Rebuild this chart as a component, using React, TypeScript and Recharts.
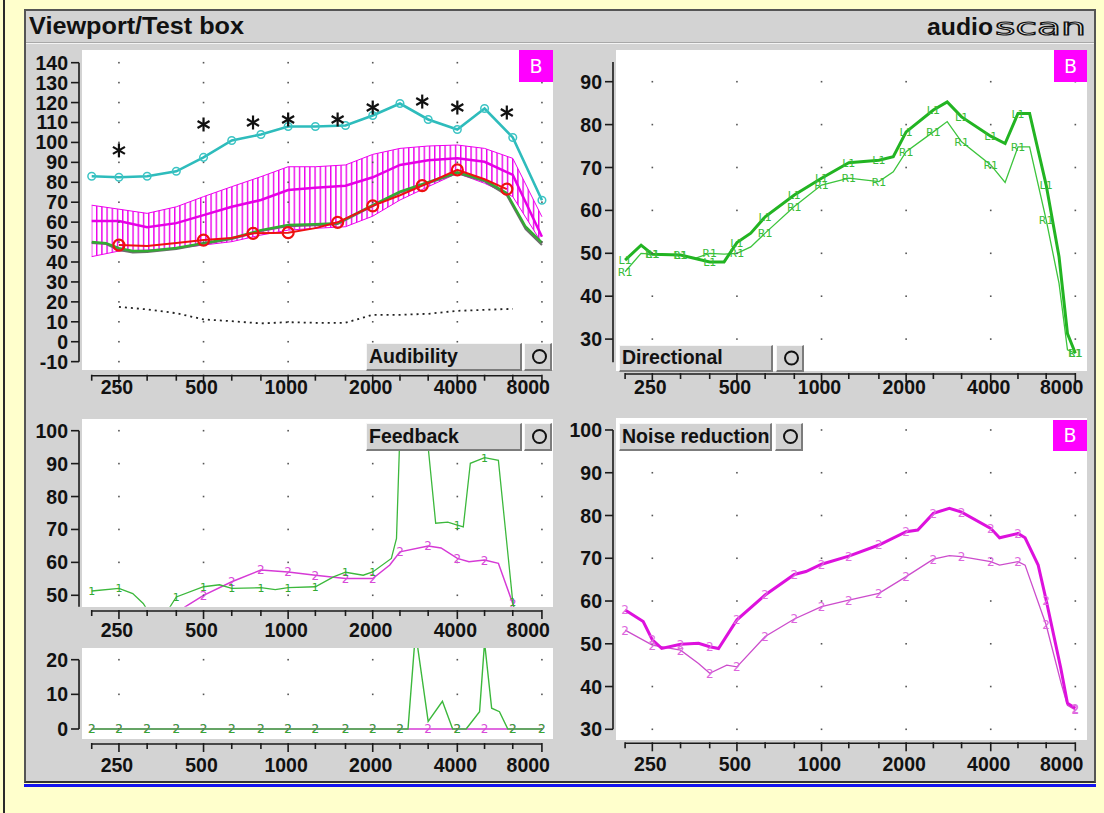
import React from 'react';
import { ComposedChart, Line, Area, Scatter, XAxis, YAxis, ReferenceLine } from 'recharts';

// third-octave and octave frequencies used on every x axis
const THIRDS = [200, 250, 315, 400, 500, 630, 800, 1000, 1250, 1600, 2000, 2500, 3150, 4000, 5000, 6300, 8000];
const OCTAVES = [250, 500, 1000, 2000, 4000, 8000];

// ---- Audibility (top left)
const audTicks = [-10, 0, 10, 20, 30, 40, 50, 60, 70, 80, 90, 100, 110, 120, 130, 140];
const ucl = [83, 82.5, 83, 85.5, 92.5, 101, 104, 108, 108, 108.5, 113.5, 119.5, 111.5, 106.5, 117, 102.5, 71];
const bandHi = [68.5, 66.5, 64.4, 67.7, 72.8, 77.8, 82.8, 87.8, 87.8, 88.7, 94, 97, 98.2, 98.7, 97, 92, 62.7];
const bandMid = [60.6, 60.6, 57.5, 59.5, 63.5, 67.7, 71.1, 76.1, 77.3, 78.3, 82.5, 88.7, 91, 92, 90.3, 83.7, 52.7];
const bandLo = [42.7, 45.5, 46, 46.9, 48.5, 50.2, 53.5, 56, 56.9, 57.7, 63, 71.1, 77.8, 84.5, 79.5, 72.8, 49.4];
const starFreq = [250, 500, 750, 1000, 1500, 2000, 3000, 4000, 6000];
const starVal = [96, 109, 110, 111.5, 111.5, 117.5, 120.5, 117.5, 115];
const redFreq = [250, 315, 400, 500, 630, 750, 1000, 1250, 1500, 2000, 2500, 3000, 4000, 5000, 6000];
const redVal = [48.5, 48, 49.5, 51, 52, 54.4, 54.7, 57, 59.9, 68.2, 73.5, 78.3, 86.2, 81.5, 76.6];
const redMarks = [250, 500, 750, 1000, 1500, 2000, 3000, 4000, 6000];
const aidedFreq = [200, 225, 250, 280, 315, 400, 500, 630, 800, 1000, 1250, 1500, 2000, 2500, 3000, 4000, 5000, 6000, 7000, 8000];
const aidedGreen = [50, 49.5, 47, 45.5, 45.5, 47, 49.5, 52, 56, 58.6, 59, 59.5, 68.6, 75.3, 79.1, 85, 81.1, 74.5, 57.7, 49.7];
const aidedGrey = [49.5, 49, 46, 44.8, 45, 46.5, 49, 51.5, 55.5, 58, 58.5, 59, 68, 74.8, 78.5, 84.5, 80.5, 73.5, 56.5, 48.5];
const threshFreq = [250, 315, 400, 500, 630, 800, 1000, 1250, 1600, 2000, 2500, 3150, 4000, 5000, 6300];
const threshVal = [17.5, 16.2, 14.3, 11.2, 10.3, 9.2, 9.8, 9.5, 9.5, 13.5, 13.5, 14, 15.5, 16, 16.5];

// ---- Directional (top right)
const dirTicks = [30, 40, 50, 60, 70, 80, 90];
const dirFreq = [200, 228, 250, 315, 355, 400, 450, 500, 560, 630, 800, 1000, 1250, 1600, 1800, 2000, 2500, 2800, 3150, 4000, 4500, 5000, 5500, 6300, 7000, 7500, 8000];
const dirL1 = [48.4, 51.9, 49.8, 49.6, 48.8, 48, 48, 52.5, 54.7, 58.5, 63.6, 67.5, 71.1, 71.7, 72.5, 78.3, 83.4, 85.3, 81.8, 77.3, 75.6, 82.6, 82.6, 65.9, 49.2, 31.3, 26.7];
const dirR1 = [45.7, 50, 49.8, 49.6, 48.8, 50, 49.8, 50, 51.5, 54.7, 60.9, 65.9, 67.5, 66.7, 69, 73.7, 78.3, 80.7, 76, 70.6, 66.5, 74.8, 74.8, 57.8, 43, 27.5, 26.7];

// ---- Feedback (bottom left, two plots)
const fbTicks = [50, 60, 70, 80, 90, 100];
const fb1Freq = [200, 250, 280, 305, 330, 360, 380, 400, 500, 570, 630, 800, 900, 1000, 1250, 1450, 1600, 1850, 2000, 2330, 2430, 2500, 2800, 3150, 3350, 3700, 4000, 4200, 4450, 5000, 5600, 6300, 6600];
const fb1Val = [51.3, 52.1, 50.5, 47.5, 43, 43, 46.5, 49.5, 52.6, 53.2, 52.1, 52.3, 51.7, 52.3, 52.6, 55.6, 57, 56.1, 57.1, 61.2, 67.3, 100, 100, 95, 71.9, 72.2, 71.3, 70.8, 90.1, 91.8, 91, 48, 40];
const fb1Marks = [200, 250, 400, 500, 630, 800, 1000, 1250, 1600, 2000, 4000, 5000, 6300];
const fb2Freq = [400, 430, 500, 630, 800, 1000, 1250, 1600, 2000, 2300, 2500, 3150, 3500, 4000, 4400, 5000, 5600, 6300, 6600];
const fb2Val = [44, 46.5, 50, 54.1, 57.7, 57.1, 56.1, 55.1, 55.1, 59.2, 63.2, 65, 64.4, 61.2, 60.2, 60.7, 59.7, 47.5, 40];
const fb2Marks = [500, 630, 800, 1000, 1250, 1600, 2000, 2500, 3150, 4000, 5000, 6300];
const fbLowTicks = [0, 10, 20];
const fbLow1Freq = [200, 250, 315, 400, 500, 630, 800, 1000, 1250, 1600, 2000, 2500, 2670, 2840, 3150, 3540, 3850, 4000, 4300, 4800, 5000, 5300, 5650, 6050, 6300, 8000];
const fbLow1Val = [0, 0, 0, 0, 0, 0, 0, 0, 0, 0, 0, 0, 0, 28, 2.2, 8, 0, 0, 0, 5, 25, 6, 5, 0, 0, 0];
const fbLow1Marks = [200, 250, 315, 400, 500, 630, 800, 1000, 1250, 1600, 2000, 2500, 4000, 6300, 8000];
const fbLow2Val = [0, 0, 0, 0, 0, 0, 0, 0, 0, 0, 0, 0, 0, 0, 0, 0, 0];

// ---- Noise reduction (bottom right)
const nrTicks = [30, 40, 50, 60, 70, 80, 90, 100];
const nrAFreq = [200, 210, 232, 250, 270, 315, 365, 400, 430, 500, 630, 800, 880, 1000, 1250, 1600, 2000, 2200, 2500, 2850, 3150, 4000, 4300, 5000, 5300, 5900, 6300, 7100, 7500, 8000];
const nrAVal = [57.9, 57, 55.2, 50.9, 48.9, 49.9, 50.1, 49.3, 48.9, 55.6, 61.4, 66.2, 66.9, 68.6, 70.5, 73.1, 76.2, 76.6, 80.5, 81.7, 80.8, 77, 74.8, 75.8, 74.8, 68.4, 60.2, 44.3, 36.1, 34.9];
const nrBFreq = [200, 250, 315, 365, 400, 460, 500, 630, 800, 1000, 1250, 1600, 2000, 2500, 2850, 3150, 4000, 4300, 5000, 5300, 6300, 7100, 7500, 8000];
const nrBVal = [53.2, 49.7, 48.5, 45.4, 43.1, 45, 44.6, 51.7, 55.8, 58.7, 60.2, 61.8, 65.7, 69.8, 70.6, 70.4, 69.2, 68.4, 69.2, 68.4, 54.4, 41.1, 35.6, 34.5];

const FONT = '"Liberation Sans", Arial, Helvetica, sans-serif';
const MARK_FONT = '"DejaVu Sans", sans-serif';
const YW = 64;
const XH = 44;
const RM = 30;
const PPO = 84.6;

type Geo = {
  x0: number; x1: number; y0: number; y1: number;
  f200: number; vRef: number; vRefPx: number; ppu: number;
  axisY: number; axisX: number; yLo: number; yHi: number; labelDy: number;
};

const TL: Geo = { x0: 82, x1: 553, y0: 50, y1: 370, f200: 91.7, vRef: 140, vRefPx: 62.7, ppu: 1.993, axisY: 375.7, axisX: 79, yLo: -10, yHi: 140, labelDy: 18 };
const TR: Geo = { x0: 616, x1: 1087, y0: 50, y1: 371, f200: 625.1, vRef: 90, vRefPx: 81.7, ppu: 4.29, axisY: 374, axisX: 613, yLo: 24.6, yHi: 94.6, labelDy: 20 };
const FU: Geo = { x0: 82, x1: 553, y0: 419, y1: 606.7, f200: 91.7, vRef: 100, vRefPx: 430.7, ppu: 3.292, axisY: 611, axisX: 79, yLo: 46.5, yHi: 100, labelDy: 26.5 };
const FL: Geo = { x0: 82, x1: 553, y0: 648.3, y1: 739, f200: 91.7, vRef: 0, vRefPx: 729.3, ppu: 3.465, axisY: 744.3, axisX: 79, yLo: 0, yHi: 20, labelDy: 28 };
const NR: Geo = { x0: 616, x1: 1087, y0: 418, y1: 740, f200: 625.1, vRef: 30, vRefPx: 729.3, ppu: 4.276, axisY: 743.3, axisX: 613, yLo: 30, yHi: 100, labelDy: 28 };

const fAt = (g: Geo, px: number) => 200 * Math.pow(2, (px - g.f200) / PPO);
const vAt = (g: Geo, py: number) => g.vRef + (g.vRefPx - py) / g.ppu;
const zip = (fs: number[], vs: number[]) => fs.map((f, i) => ({ f, v: vs[i] }));

const xTick = (g: Geo) => (p: any) => {
  const major = OCTAVES.includes(p.payload.value);
  const last = p.payload.value === 8000;
  const ay = p.y + (g.axisY - g.y1);
  return (
    <g>
      <line x1={p.x} x2={p.x} y1={ay - 1} y2={ay + (major ? 8 : 5)} stroke="#1a1a1a" strokeWidth={1.6} />
      {major && (
        <text x={last ? p.x + 8 : p.x - 2} y={ay + g.labelDy} textAnchor={last ? 'end' : 'middle'} fontFamily={FONT} fontWeight="bold" fontSize={19.5} fill="#111">
          {p.payload.value}
        </text>
      )}
    </g>
  );
};

const yTick = (g: Geo) => (p: any) => {
  const ax = p.x - (g.x0 - g.axisX);
  return (
    <g>
      <line x1={ax - 8} x2={ax} y1={p.y} y2={p.y} stroke="#1a1a1a" strokeWidth={1.6} />
      <text x={ax - 11} y={p.y + 7} textAnchor="end" fontFamily={FONT} fontWeight="bold" fontSize={19.5} fill="#111">
        {p.payload.value}
      </text>
    </g>
  );
};

const gridDot = (p: any) => <rect x={p.cx - 0.8} y={p.cy - 0.8} width={1.6} height={1.6} fill="#555" />;

const starShape = (p: any) => (
  <g stroke="#111" strokeWidth={2.2}>
    <line x1={p.cx} y1={p.cy - 7} x2={p.cx} y2={p.cy + 7} />
    <line x1={p.cx - 6} y1={p.cy - 3.5} x2={p.cx + 6} y2={p.cy + 3.5} />
    <line x1={p.cx - 6} y1={p.cy + 3.5} x2={p.cx + 6} y2={p.cy - 3.5} />
  </g>
);

const textDot = (label: string, color: string, marks: number[], size = 11) => (p: any) => {
  const key = `m-${label}-${p.index}`;
  if (!p.payload || !marks.includes(p.payload.f)) return <g key={key} />;
  return (
    <text key={key} x={p.cx} y={p.cy + size * 0.37} textAnchor="middle" fontFamily={MARK_FONT} fontSize={size} fill={color}>
      {label}
    </text>
  );
};

const ringDot = (color: string, r: number, w: number, marks: number[]) => (p: any) => {
  const key = `r-${color}-${p.index}`;
  if (!p.payload || !marks.includes(p.payload.f)) return <g key={key} />;
  return <circle key={key} cx={p.cx} cy={p.cy} r={r} fill="none" stroke={color} strokeWidth={w} />;
};

// axes, axis lines and dotted grid shared by all panels
function frame(g: Geo, yTicks: number[]) {
  const gridData = OCTAVES.flatMap((f) => yTicks.map((v) => ({ f, v })));
  const yLineF = fAt(g, g.axisX);
  const xLineV = vAt(g, g.axisY);
  return [
    <XAxis key="xa" dataKey="f" type="number" scale="log" domain={[fAt(g, g.x0), fAt(g, g.x1)]} allowDataOverflow
      ticks={THIRDS} interval={0} height={XH} axisLine={false} tickLine={false} tickSize={0} tickMargin={0} tick={xTick(g)} />,
    <YAxis key="ya" dataKey="v" type="number" domain={[vAt(g, g.y1), vAt(g, g.y0)]} allowDataOverflow
      ticks={yTicks} interval={0} width={YW} axisLine={false} tickLine={false} tickSize={0} tickMargin={0} tick={yTick(g)} />,
    <Scatter key="grid" data={gridData} shape={gridDot} isAnimationActive={false} />,
    <ReferenceLine key="xl" segment={[{ x: 200, y: xLineV }, { x: 8000, y: xLineV }]} stroke="#1a1a1a" strokeWidth={1.6} ifOverflow="visible" />,
    <ReferenceLine key="yl" segment={[{ x: yLineF, y: g.yLo }, { x: yLineF, y: g.yHi }]} stroke="#1a1a1a" strokeWidth={1.6} ifOverflow="visible" />,
  ];
}

const Plot = ({ g, data, children }: { g: Geo; data?: any[]; children: React.ReactNode }) => (
  <>
    <div style={{ position: 'absolute', left: g.x0, top: g.y0, width: g.x1 - g.x0, height: g.y1 - g.y0, background: '#fff' }} />
    <div style={{ position: 'absolute', left: g.x0 - YW, top: g.y0 }}>
      <ComposedChart width={YW + g.x1 - g.x0 + RM} height={g.y1 - g.y0 + XH} data={data} margin={{ top: 0, right: RM, bottom: 0, left: 0 }}>
        {children}
      </ComposedChart>
    </div>
  </>
);

const Button = ({ x, y, w, h, label }: { x: number; y: number; w: number; h: number; label?: string }) => (
  <div style={{
    position: 'absolute', left: x, top: y, width: w, height: h, boxSizing: 'border-box', background: '#d2d2d2',
    borderTop: '1px solid #f7f7f7', borderLeft: '1px solid #f7f7f7', borderRight: '2px solid #7c7c7c', borderBottom: '2px solid #7c7c7c',
    fontFamily: FONT, fontWeight: 'bold', fontSize: 19.5, color: '#111', lineHeight: `${h - 4}px`, paddingLeft: 2, whiteSpace: 'nowrap',
  }}>
    {label ?? (
      <svg width={w - 3} height={h - 3} style={{ display: 'block' }}>
        <circle cx={(w - 3) / 2} cy={(h - 3) / 2} r={6.5} fill="none" stroke="#111" strokeWidth={2} />
      </svg>
    )}
  </div>
);

const BBox = ({ x, y, w, h }: { x: number; y: number; w: number; h: number }) => (
  <div style={{
    position: 'absolute', left: x, top: y, width: w, height: h, background: '#ff00ff', color: '#fff',
    fontFamily: '"DejaVu Sans", sans-serif', fontSize: 19, lineHeight: `${h}px`, textAlign: 'center',
  }}>B</div>
);

const band = THIRDS.map((f, i) => ({ f, lo: bandLo[i], hi: bandHi[i], mid: bandMid[i] }));

export default function App() {
  return (
    <div style={{ position: 'absolute', left: 0, top: 0, width: 1104, height: 813, background: '#ffffcc', overflow: 'hidden' }}>
      <svg width={0} height={0} style={{ position: 'absolute' }}>
        <defs>
          <pattern id="hatch" patternUnits="userSpaceOnUse" width={5.2} height={8}>
            <rect x={0} y={0} width={1.4} height={8} fill="#ec00ec" />
          </pattern>
        </defs>
      </svg>
      <div style={{ position: 'absolute', left: 3, top: 0, width: 2, height: 813, background: '#2a2a2a' }} />
      <div style={{ position: 'absolute', left: 24, top: 9, width: 1072, height: 774, boxSizing: 'border-box', background: '#d3d3d3', border: '2px solid #555', borderBottom: '2px solid #333' }} />
      <div style={{ position: 'absolute', left: 26, top: 42, width: 1068, height: 1, background: '#a8a8a8' }} />
      <div style={{ position: 'absolute', left: 26, top: 43, width: 1068, height: 1, background: '#f4f4f4' }} />
      <div style={{ position: 'absolute', left: 24, top: 784, width: 1072, height: 3, background: '#1414ee' }} />

      <svg width={1104} height={45} style={{ position: 'absolute', left: 0, top: 0 }}>
        <text x={29} y={33.5} fontFamily={FONT} fontWeight="bold" fontSize={24} fill="#111" textLength={215} lengthAdjust="spacingAndGlyphs">Viewport/Test box</text>
        <text x={927} y={35} fontFamily={FONT} fontWeight="900" fontSize={24} fill="#111" textLength={66} lengthAdjust="spacingAndGlyphs">audio</text>
        <text x={995} y={35} fontFamily={MARK_FONT} fontSize={23} fill="#e4e4e4" stroke="#111" strokeWidth={1.1} textLength={91} lengthAdjust="spacingAndGlyphs">scan</text>
      </svg>

      {/* Audibility */}
      <Plot g={TL} data={band}>
        {frame(TL, audTicks)}
        <Area dataKey={(d: any) => [d.lo, d.hi]} stroke="#ee00ee" strokeWidth={1} fill="url(#hatch)" fillOpacity={1} isAnimationActive={false} dot={false} activeDot={false} />
        <Line dataKey="mid" stroke="#e600e6" strokeWidth={2.5} dot={false} activeDot={false} isAnimationActive={false} />
        <Line data={zip(threshFreq, threshVal)} dataKey="v" stroke="#222" strokeWidth={1.8} strokeDasharray="2 4" dot={false} activeDot={false} isAnimationActive={false} />
        <Line data={zip(THIRDS, ucl)} dataKey="v" stroke="#2ebcbc" strokeWidth={2.6} dot={ringDot('#3cc4c4', 3.8, 1.5, THIRDS)} activeDot={false} isAnimationActive={false} />
        <Line data={zip(aidedFreq, aidedGrey)} dataKey="v" stroke="#6d6d6d" strokeWidth={2} dot={false} activeDot={false} isAnimationActive={false} />
        <Line data={zip(aidedFreq, aidedGreen)} dataKey="v" stroke="#33aa33" strokeWidth={2.4} dot={false} activeDot={false} isAnimationActive={false} />
        <Line data={zip(redFreq, redVal)} dataKey="v" stroke="#ee1111" strokeWidth={2} dot={ringDot('#ee1111', 5.5, 2.2, redMarks)} activeDot={false} isAnimationActive={false} />
        <Scatter data={zip(starFreq, starVal)} shape={starShape} isAnimationActive={false} />
      </Plot>

      {/* Directional */}
      <Plot g={TR}>
        {frame(TR, dirTicks)}
        <Line data={zip(dirFreq, dirR1)} dataKey="v" stroke="#3cc43c" strokeWidth={1.3} dot={textDot('R1', '#39bb39', THIRDS, 11)} activeDot={false} isAnimationActive={false} />
        <Line data={zip(dirFreq, dirL1)} dataKey="v" stroke="#22b422" strokeWidth={3} dot={textDot('L1', '#39bb39', THIRDS, 11)} activeDot={false} isAnimationActive={false} />
      </Plot>

      {/* Feedback */}
      <Plot g={FU}>
        {frame(FU, fbTicks)}
        <Line data={zip(fb2Freq, fb2Val)} dataKey="v" stroke="#d63ad6" strokeWidth={1.5} dot={textDot('2', '#d84ad8', fb2Marks, 12)} activeDot={false} isAnimationActive={false} />
        <Line data={zip(fb1Freq, fb1Val)} dataKey="v" stroke="#3cb83c" strokeWidth={1.3} dot={textDot('1', '#33aa33', fb1Marks, 11)} activeDot={false} isAnimationActive={false} />
      </Plot>
      <Plot g={FL}>
        {frame(FL, fbLowTicks)}
        <Line data={zip(THIRDS, fbLow2Val)} dataKey="v" stroke="#d63ad6" strokeWidth={1.5} dot={textDot('2', '#d84ad8', THIRDS, 12)} activeDot={false} isAnimationActive={false} />
        <Line data={zip(fbLow1Freq, fbLow1Val)} dataKey="v" stroke="#3cb83c" strokeWidth={1.4} dot={textDot('2', '#33aa33', fbLow1Marks, 12)} activeDot={false} isAnimationActive={false} />
      </Plot>

      {/* Noise reduction */}
      <Plot g={NR}>
        {frame(NR, nrTicks)}
        <Line data={zip(nrBFreq, nrBVal)} dataKey="v" stroke="#cc4ccc" strokeWidth={1.3} dot={textDot('2', '#dd66dd', THIRDS, 12)} activeDot={false} isAnimationActive={false} />
        <Line data={zip(nrAFreq, nrAVal)} dataKey="v" stroke="#dd11dd" strokeWidth={3} dot={textDot('2', '#e070e0', THIRDS, 12)} activeDot={false} isAnimationActive={false} />
      </Plot>

      <BBox x={519} y={50} w={34} h={32} />
      <BBox x={1054} y={50} w={33} h={32} />
      <BBox x={1053} y={420} w={34} h={31} />
      <Button x={366} y={343} w={156} h={28} label="Audibility" />
      <Button x={524} y={343} w={28} h={28} />
      <Button x={619} y={345} w={154} h={27} label="Directional" />
      <Button x={776} y={345} w={28} h={27} />
      <Button x={366} y={423} w={156} h={28} label="Feedback" />
      <Button x={524} y={423} w={28} h={28} />
      <Button x={619} y={423} w={153} h={28} label="Noise reduction" />
      <Button x={775} y={423} w={28} h={28} />
    </div>
  );
}
